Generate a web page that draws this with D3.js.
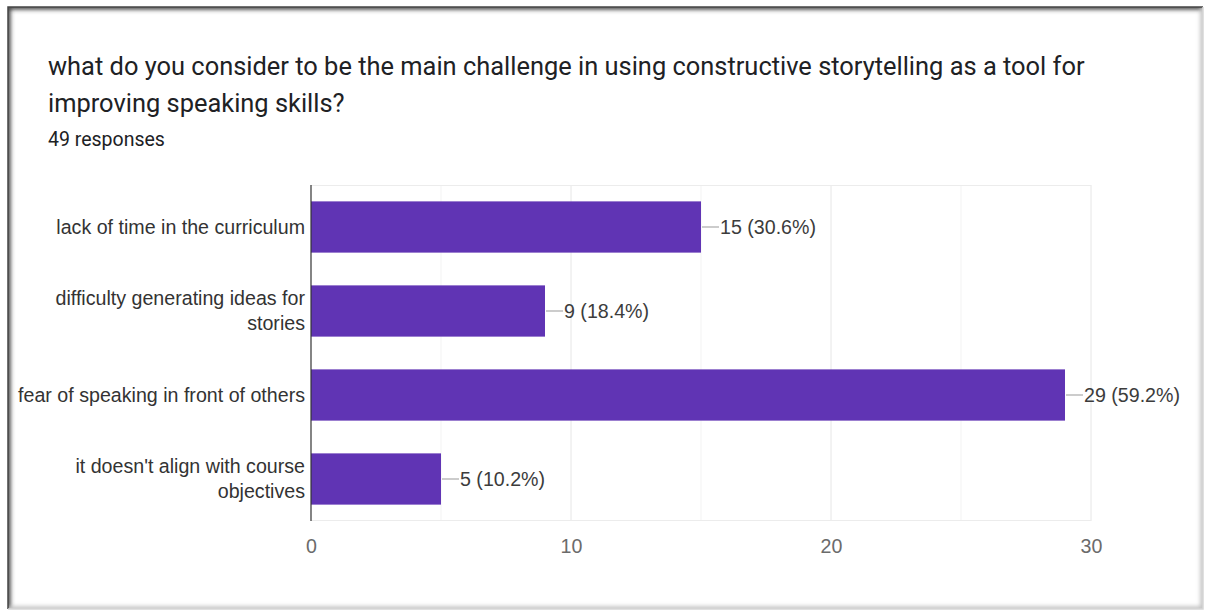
<!DOCTYPE html>
<html>
<head>
<meta charset="utf-8">
<script src="https://cdn.jsdelivr.net/npm/d3@7"></script>
<style>
  html, body { margin: 0; padding: 0; background: #fff; }
  svg { display: block; }
  .title { font-family: Roboto, Arial, sans-serif; }
  .chart-text { font-family: "Liberation Sans", Arial, sans-serif; }
</style>
</head>
<body>
<svg id="chart" width="1207" height="612"></svg>
<script>
// Survey question, response count and answers
const titleLines = [
  "what do you consider to be the main challenge in using constructive storytelling as a tool for",
  "improving speaking skills?"
];
const responsesText = "49 responses";
const categories = [
  ["lack of time in the curriculum"],
  ["difficulty generating ideas for", "stories"],
  ["fear of speaking in front of others"],
  ["it doesn't align with course", "objectives"]
];
const counts = [15, 9, 29, 5];
const percents = ["30.6%", "18.4%", "59.2%", "10.2%"];
const tickValues = [0, 10, 20, 30];
const minorTicks = [5, 15, 25];

const svg = d3.select("#chart");
const W = 1207, H = 612;

// Pick a font size so that a sample string spans the wanted width
function fitSize(cls, sample, width) {
  const t = svg.append("text").attr("class", cls).attr("font-size", 20).text(sample);
  const len = t.node().getComputedTextLength();
  t.remove();
  return 20 * width / len;
}

// Card frame with a soft inner shadow
const defs = svg.append("defs");
const blur = defs.append("filter").attr("id", "soft")
  .attr("x", "-5%").attr("y", "-5%").attr("width", "110%").attr("height", "110%");
blur.append("feGaussianBlur").attr("stdDeviation", 2.2);
defs.append("clipPath").attr("id", "cardClip")
  .append("rect").attr("x", 8).attr("y", 7).attr("width", 1195).attr("height", 602);

svg.append("rect").attr("width", W).attr("height", H).attr("fill", "#fff");
const frame = svg.append("g").attr("clip-path", "url(#cardClip)");
frame.append("path")
  .attr("d", "M8,609 L8,7 L1203,7")
  .attr("fill", "none").attr("stroke", "#3a3a3a").attr("stroke-width", 5)
  .attr("filter", "url(#soft)");
frame.append("path")
  .attr("d", "M1203,7 L1203,609 L8,609")
  .attr("fill", "none").attr("stroke", "#bdbdbd").attr("stroke-width", 5)
  .attr("filter", "url(#soft)");
svg.append("path")
  .attr("d", "M8,609 L8,7 L1203,7")
  .attr("fill", "none").attr("stroke", "#444").attr("stroke-width", 1.5);
svg.append("path")
  .attr("d", "M1203,7 L1203,609 L8,609")
  .attr("fill", "none").attr("stroke", "#d6d6d6").attr("stroke-width", 1.5);

// Title and subtitle
const titleSize = fitSize("title", titleLines[0], 1037);
svg.append("g").selectAll("text").data(titleLines).join("text")
  .attr("class", "title")
  .attr("x", 48).attr("y", (d, i) => 75 + i * 37)
  .attr("font-size", titleSize).attr("fill", "#202124")
  .text(d => d);
const subSize = fitSize("title", responsesText, 117);
svg.append("text").attr("class", "title").attr("x", 48).attr("y", 146)
  .attr("font-size", subSize).attr("fill", "#202124")
  .text(responsesText);

// Plot area
const plotLeft = 311, plotRight = 1091, plotTop = 185, plotBottom = 521;
const x = d3.scaleLinear().domain([0, 30]).range([plotLeft, plotRight]);
const y = d3.scaleBand().domain(d3.range(counts.length)).range([plotTop, plotBottom])
  .paddingInner(0.39).paddingOuter(0.195);
const labelSize = fitSize("chart-text", categories[2][0], 287);

const grid = svg.append("g");
grid.selectAll("line.minor").data(minorTicks).join("line").attr("class", "minor")
  .attr("x1", d => x(d)).attr("x2", d => x(d)).attr("y1", plotTop).attr("y2", plotBottom)
  .attr("stroke", "#f3f3f3").attr("stroke-width", 1);
grid.selectAll("line.major").data(tickValues.slice(1)).join("line").attr("class", "major")
  .attr("x1", d => x(d)).attr("x2", d => x(d)).attr("y1", plotTop).attr("y2", plotBottom)
  .attr("stroke", "#e6e6e6").attr("stroke-width", 1);
grid.append("line").attr("x1", plotLeft).attr("x2", x(30)).attr("y1", plotTop + 0.5).attr("y2", plotTop + 0.5)
  .attr("stroke", "#ececec");
grid.append("line").attr("x1", plotLeft).attr("x2", x(30)).attr("y1", plotBottom - 0.5).attr("y2", plotBottom - 0.5)
  .attr("stroke", "#ececec");

// Bars
svg.append("g").selectAll("rect").data(counts).join("rect")
  .attr("x", x(0)).attr("y", (d, i) => y(i))
  .attr("width", d => x(d) - x(0)).attr("height", y.bandwidth())
  .attr("fill", "#6034b4");

// Baseline
svg.append("line").attr("x1", x(0)).attr("x2", x(0)).attr("y1", plotTop).attr("y2", plotBottom)
  .attr("stroke", "#333").attr("stroke-width", 1.2);

// Value annotations with leader lines
const ann = svg.append("g").selectAll("g").data(counts).join("g")
  .attr("transform", (d, i) => `translate(${x(d)},${y(i) + y.bandwidth() / 2})`);
ann.append("line").attr("x1", 1).attr("x2", 18).attr("y1", 0).attr("y2", 0)
  .attr("stroke", "#999").attr("stroke-width", 1);
ann.append("text").attr("class", "chart-text").attr("x", 19).attr("dy", "0.35em")
  .attr("font-size", labelSize).attr("fill", "#3c3c3c")
  .text((d, i) => `${d} (${percents[i]})`);

// Category labels (right aligned, wrapped)
const cat = svg.append("g").selectAll("text").data(categories).join("text")
  .attr("class", "chart-text")
  .attr("text-anchor", "end").attr("font-size", labelSize).attr("fill", "#333");
cat.each(function (lines, i) {
  const cy = y(i) + y.bandwidth() / 2;
  const lh = 25;
  const start = cy - (lines.length - 1) * lh / 2;
  d3.select(this).selectAll("tspan").data(lines).join("tspan")
    .attr("x", 305).attr("y", (d, j) => start + j * lh).attr("dy", "0.35em")
    .text(d => d);
});

// X axis tick labels
const xAxis = d3.axisBottom(x).tickValues(tickValues).tickSize(0).tickPadding(18);
const ax = svg.append("g").attr("transform", `translate(0,${plotBottom})`).call(xAxis);
ax.select(".domain").remove();
ax.selectAll("text").attr("class", "chart-text").attr("font-size", labelSize)
  .attr("font-family", null).attr("fill", "#6b6b6b");
</script>
</body>
</html>
